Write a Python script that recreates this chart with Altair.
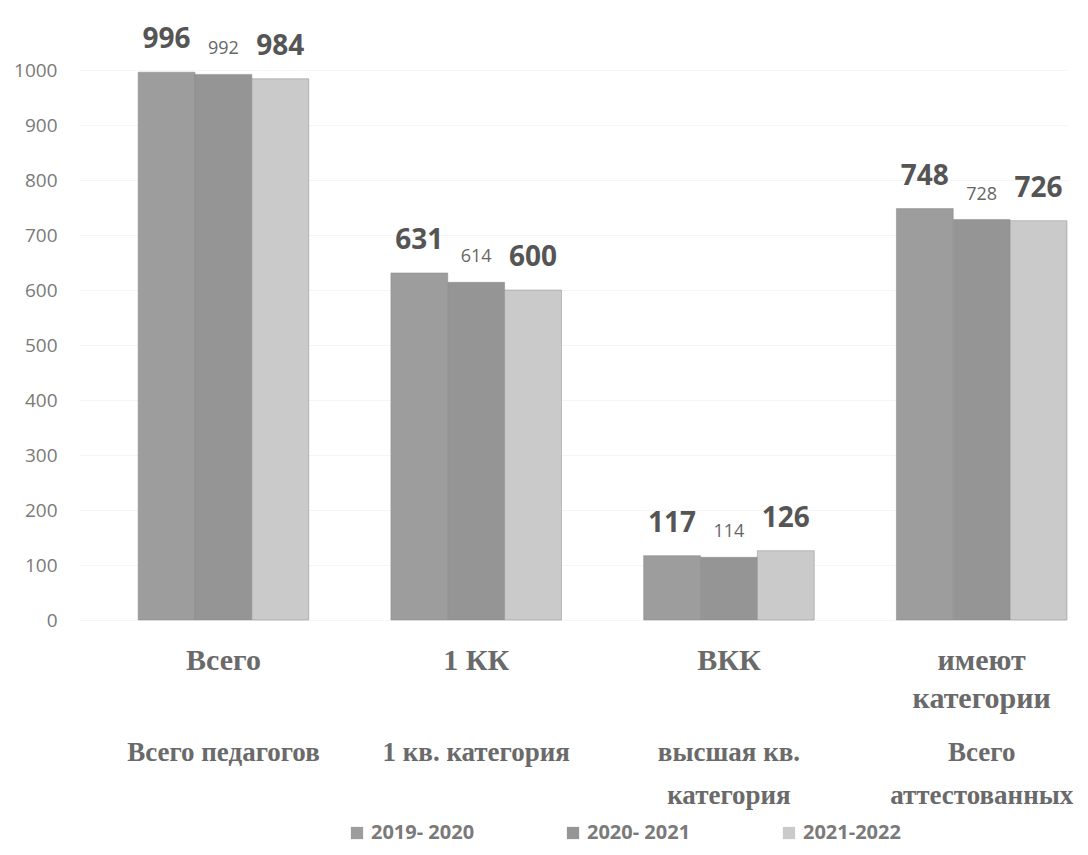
import altair as alt
import pandas as pd

categories = ["Всего", "1 КК", "ВКК", "имеют категории"]
row1_labels = ["Всего", "1 КК", "ВКК", "имеют\nкатегории"]
row2_labels = ["Всего педагогов", "1 кв. категория", "высшая кв.\nкатегория", "Всего\nаттестованных"]
series = ["2019- 2020", "2020- 2021", "2021-2022"]
v2019 = [996, 631, 117, 748]
v2020 = [992, 614, 114, 728]
v2021 = [984, 600, 126, 726]
colors = ["#9d9d9d", "#959595", "#cacaca"]
y_ticks = [0, 100, 200, 300, 400, 500, 600, 700, 800, 900, 1000]

rows = []
for s, vals in zip(series, [v2019, v2020, v2021]):
    for c, v in zip(categories, vals):
        rows.append({"category": c, "series": s, "value": v})
df = pd.DataFrame(rows)
cats = pd.DataFrame({"category": categories, "row1": row1_labels, "row2": row2_labels})

W, H = 988, 605

x_enc = alt.X("category:N", sort=categories,
              scale=alt.Scale(paddingInner=0.325, paddingOuter=0.117, align=1), axis=None)
xo_enc = alt.XOffset("series:N", sort=series, scale=alt.Scale(paddingInner=0, paddingOuter=0))
y_enc = alt.Y("value:Q", scale=alt.Scale(domain=[0, 1100], nice=False),
              axis=alt.Axis(values=y_ticks, format="d", title=None, domain=False, ticks=False,
                            grid=True, gridColor="#f5f5f5", labelFont="Open Sans",
                            labelFontSize=19, labelColor="#7a7a7a", labelPadding=22))

bars = alt.Chart(df).mark_bar(stroke="#8a8a8a", strokeWidth=0.5).encode(
    x=x_enc, xOffset=xo_enc, y=y_enc,
    color=alt.Color("series:N", sort=series,
                    scale=alt.Scale(domain=series, range=colors),
                    legend=alt.Legend(orient="none", legendX=268, legendY=808,
                                      direction="horizontal", columns=3,
                                      symbolType="square", symbolSize=150,
                                      symbolStrokeWidth=0,
                                      labelFont="Open Sans", labelFontSize=20,
                                      labelFontWeight="bold", labelColor="#7a7a7a",
                                      columnPadding=88, title=None))
)

big_labels = alt.Chart(df).transform_filter(
    alt.FieldOneOfPredicate(field="series", oneOf=[series[0], series[2]])
).mark_text(baseline="bottom", dy=-18, font="Open Sans", fontWeight="bold",
            fontSize=28, color="#555555").encode(
    x=x_enc, xOffset=xo_enc, y=alt.Y("value:Q"), text="value:Q")

small_labels = alt.Chart(df).transform_filter(
    alt.FieldEqualPredicate(field="series", equal=series[1])
).mark_text(baseline="bottom", dy=-16, font="Open Sans",
            fontSize=18, color="#666666").encode(
    x=x_enc, xOffset=xo_enc, y=alt.Y("value:Q"), text="value:Q")

row1 = alt.Chart(cats).mark_text(baseline="top", align="center", lineBreak="\n",
                                 lineHeight=38, font="Liberation Serif",
                                 fontWeight="bold", fontSize=30, color="#6a6a6a").encode(
    x=x_enc, y=alt.value(H + 26), text="row1:N")

row2 = alt.Chart(cats).mark_text(baseline="top", align="center", lineBreak="\n",
                                 lineHeight=43, font="Liberation Serif",
                                 fontWeight="bold", fontSize=27, color="#6a6a6a").encode(
    x=x_enc, y=alt.value(H + 120), text="row2:N")

chart = alt.layer(bars, big_labels, small_labels, row1, row2).properties(
    width=W, height=H,
    padding={"left": 5, "top": 7, "right": 0, "bottom": 22},
).configure_view(stroke=None)

chart.save("out.html", embed_options={"renderer": "svg", "actions": False})
